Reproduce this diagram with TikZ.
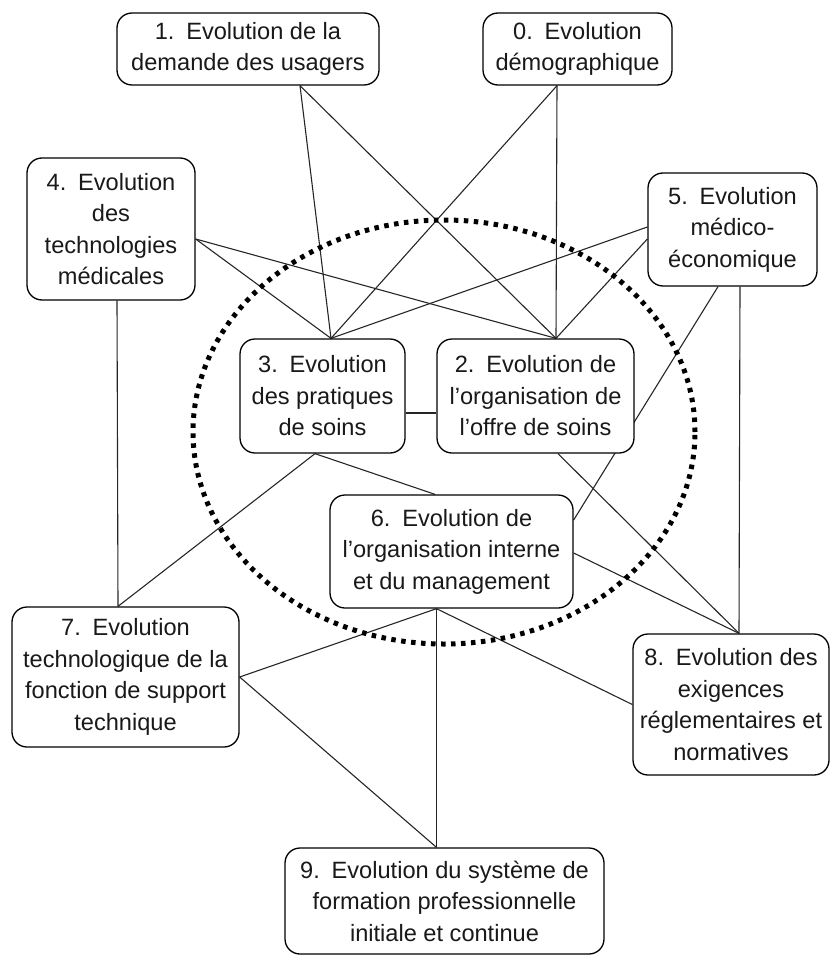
\documentclass[tikz,border=0pt]{standalone}
\usepackage{fontspec}
\setmainfont{Liberation Sans}
\usetikzlibrary{backgrounds,calc}
\newcommand\numsp{\hspace{0.5em}}
\begin{document}
\begin{tikzpicture}[x=1pt,y=-1pt,
  box/.style={draw=black, line width=1.3pt, rounded corners=15pt, fill=white, align=center,
    inner sep=0pt, font=\fontsize{23.6}{31.5}\selectfont, text=black!90},
  link/.style={line width=1.1pt, draw=black!85},
  dotring/.style={line width=5pt, dash pattern=on 4.5pt off 5.5pt}]
\useasboundingbox (0,0) rectangle (834,955);

\node[box, minimum width=262pt, minimum height=72pt] (b1) at (248,49) {1.\numsp Evolution de la\\demande des usagers};
\node[box, minimum width=189pt, minimum height=72pt] (b0) at (577.5,49) {0.\numsp Evolution\\démographique};
\node[box, minimum width=168pt, minimum height=142pt] (b4) at (111,229) {4.\numsp Evolution\\des\\technologies\\médicales};
\node[box, minimum width=169pt, minimum height=113pt] (b5) at (732.5,229.5) {5.\numsp Evolution\\médico-\\économique};
\node[box, minimum width=165pt, minimum height=114pt] (b3) at (322.5,396) {3.\numsp Evolution\\des pratiques\\de soins};
\node[box, minimum width=197pt, minimum height=114pt] (b2) at (535.5,396) {2.\numsp Evolution de\\l’organisation de\\l’offre de soins};
\node[box, minimum width=243pt, minimum height=113pt] (b6) at (451.5,551.5) {6.\numsp Evolution de\\l’organisation interne\\et du management};
\node[box, minimum width=227pt, minimum height=140pt] (b7) at (125.5,677) {7.\numsp Evolution\\technologique de la\\fonction de support\\technique};
\node[box, minimum width=196pt, minimum height=141pt] (b8) at (731,704.5) {8.\numsp Evolution des\\exigences\\réglementaires et\\normatives};
\node[box, minimum width=319pt, minimum height=106pt] (b9) at (444.5,901) {9.\numsp Evolution du système de\\formation professionnelle\\initiale et continue};

\coordinate (b1s) at ([xshift=52pt]b1.south);
\coordinate (b0s) at ([xshift=-20.5pt]b0.south);
\coordinate (b3n) at ([xshift=8.5pt]b3.north);
\coordinate (b2n) at ([xshift=20.5pt]b2.north);
\coordinate (b4e) at ([yshift=-10pt]b4.east);
\coordinate (b4s) at ([xshift=6pt]b4.south);
\coordinate (b5wa) at ([yshift=2.5pt]b5.west);
\coordinate (b5wb) at ([yshift=-9.5pt]b5.west);
\coordinate (b5sa) at ([xshift=-14.5pt]b5.south);
\coordinate (b5sb) at ([xshift=7.5pt]b5.south);
\coordinate (b3e) at ([yshift=-17pt]b3.east);
\coordinate (b2w) at ([yshift=-17pt]b2.west);
\coordinate (b3s) at ([xshift=-7.5pt]b3.south);
\coordinate (b2s) at ([xshift=22.5pt]b2.south);
\coordinate (b6n) at ([xshift=-16.5pt]b6.north);
\coordinate (b6ea) at ([yshift=31.5pt]b6.east);
\coordinate (b6eb) at ([yshift=-1.5pt]b6.east);
\coordinate (b6s) at ([xshift=-15pt]b6.south);
\coordinate (b7n) at ([xshift=-7.5pt]b7.north);
\coordinate (b8n) at ([xshift=8pt]b8.north);
\coordinate (b9n) at ([xshift=-8pt]b9.north);

\begin{scope}[on background layer]
\draw[link] (b1s) -- (b3n);
\draw[link] (b1s) -- (b2n);
\draw[link] (b0s) -- (b3n);
\draw[link] (b0s) -- (b2n);
\draw[link] (b4e) -- (b3n);
\draw[link] (b4e) -- (b2n);
\draw[link] (b5wa) -- (b3n);
\draw[link] (b5wb) -- (b2n);
\draw[link] (b4s) -- (b7n);
\draw[link] (b3e) -- (b2w);
\draw[link] (b3s) -- (b6n);
\draw[link] (b3s) -- (b7n);
\draw[link] (b2s) -- (b8n);
\draw[link] (b5sa) -- (b6ea);
\draw[link] (b5sb) -- (b8n);
\draw[link] (b6eb) -- (b8n);
\draw[link] (b6s) -- (b9n);
\draw[link] (b6s) -- (b8.west);
\draw[link] (b6s) -- (b7.east);
\draw[link] (b7.east) -- (b9n);
\draw[dotring] (444,432) ellipse [x radius=251pt, y radius=212pt];
\end{scope}
\end{tikzpicture}
\end{document}
